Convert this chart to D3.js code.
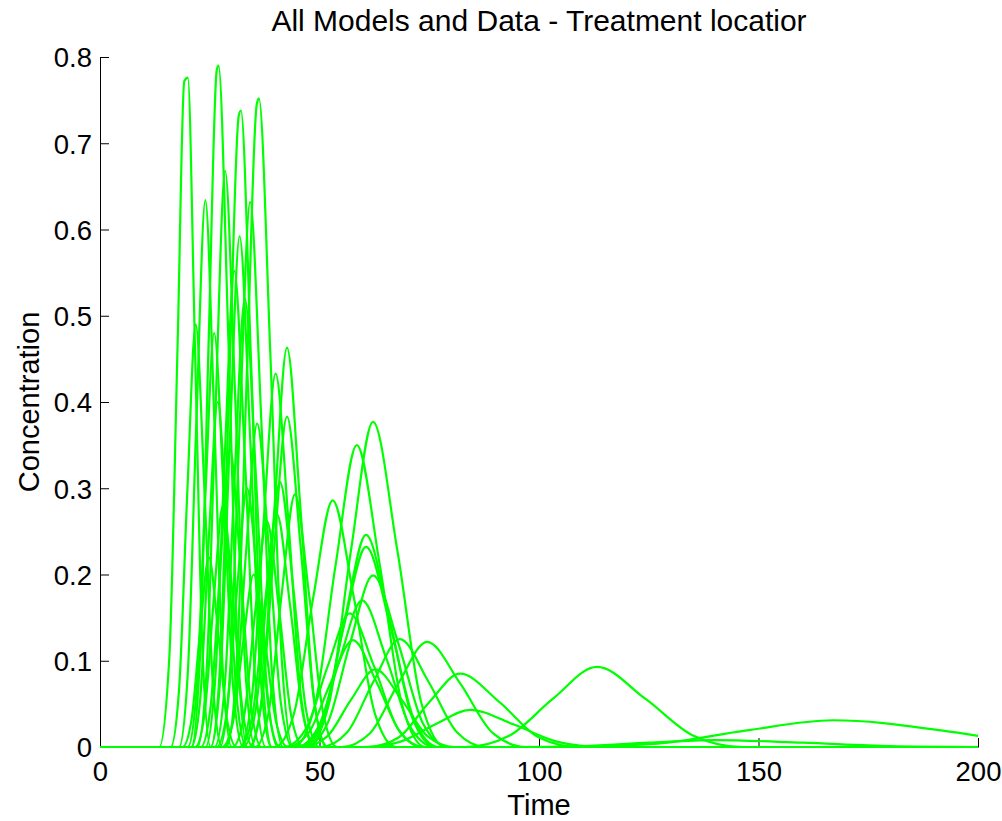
<!DOCTYPE html>
<html>
<head>
<meta charset="utf-8">
<script src="https://cdn.jsdelivr.net/npm/d3@7"></script>
<style>
  html, body { margin: 0; padding: 0; background: #fff; }
  svg { display: block; }
  text { font-family: "Liberation Sans", Arial, Helvetica, sans-serif; fill: #000; }
</style>
</head>
<body>
<svg id="chart" width="1002" height="821"></svg>
<script>
// ---- Data ----
const titleText = "All Models and Data - Treatment locatior";
const xLabel = "Time";
const yLabel = "Concentration";
const xTicks = [0, 50, 100, 150, 200];
const yTicks = [0, 0.1, 0.2, 0.3, 0.4, 0.5, 0.6, 0.7, 0.8];
const xDomain = [0, 200];
const yDomain = [0, 0.8];

// Each model curve: [time, concentration] samples
const curveEarly = [
  [[13.5,0],[15.8,.105],[17.7,.471],[19.2,.772],[20.0,.776],[21.6,.471],[23.4,.105],[25.2,0]],
  [[20.8,0],[22.8,.107],[24.8,.480],[26.6,.785],[27.0,.790],[29.2,.480],[31.4,.107],[33.6,0]],
  [[25.2,0],[27.4,.100],[29.6,.448],[31.6,.732],[32.1,.738],[34.4,.448],[36.8,.100],[39.2,0]],
  [[28.8,0],[31.2,.102],[33.6,.456],[35.7,.745],[36.2,.752],[38.8,.456],[41.4,.102],[44.0,0]],
  [[18.0,0],[20.0,.086],[22.0,.385],[24.0,.634],[26.0,.385],[28.0,.086],[30.0,0]],
  [[22.2,0],[24.3,.090],[26.4,.405],[28.5,.668],[30.8,.405],[33.1,.090],[35.4,0]],
  [[27.3,0],[29.6,.085],[31.9,.384],[34.2,.632],[36.7,.384],[39.2,.085],[41.7,0]],
  [[25.2,0],[27.4,.080],[29.6,.359],[31.8,.592],[34.2,.359],[36.6,.080],[39.0,0]],
  [[24.0,0],[26.2,.075],[28.4,.335],[30.6,.552],[33.0,.335],[35.4,.075],[37.8,0]],
  [[26.1,0],[28.4,.070],[30.7,.316],[33.0,.520],[35.5,.316],[38.0,.070],[40.5,0]],
  [[16.1,0],[18.0,.066],[19.9,.297],[21.8,.490],[23.8,.297],[25.8,.066],[27.8,0]],
  [[20.0,0],[22.0,.065],[24.0,.291],[26.0,.480],[28.2,.291],[30.4,.065],[32.6,0]],
  [[34.2,0],[37.0,.063],[39.8,.281],[42.6,.463],[45.6,.281],[48.6,.063],[51.6,0]],
  [[31.9,0],[34.6,.058],[37.3,.263],[40.0,.433],[42.9,.263],[45.8,.058],[48.7,0]],
  [[20.8,0],[22.8,.054],[24.8,.243],[26.8,.400],[29.0,.243],[31.2,.054],[33.4,0]],
  [[33.9,0],[36.8,.052],[39.7,.232],[42.6,.383],[45.7,.232],[48.8,.052],[51.9,0]],
  [[28.3,0],[30.8,.051],[33.3,.228],[35.8,.375],[38.5,.228],[41.2,.051],[43.9,0]],
  [[32.6,0],[35.4,.041],[38.2,.186],[41.0,.307],[44.0,.186],[47.0,.041],[50.0,0]],
  [[35.4,0],[38.4,.040],[41.4,.178],[44.4,.293],[47.6,.178],[50.8,.040],[54.0,0]],
  [[23.0,0],[25.2,.047],[27.4,.209],[29.6,.345],[32.0,.209],[34.4,.047],[36.8,0]],
  [[26.6,0],[28.9,.041],[31.2,.182],[33.5,.300],[36.0,.182],[38.5,.041],[41.0,0]],
  [[21.7,0],[23.8,.038],[25.9,.170],[28.0,.280],[30.3,.170],[32.6,.038],[34.9,0]],
  [[30.2,0],[32.8,.035],[35.4,.159],[38.0,.262],[40.8,.159],[43.6,.035],[46.4,0]],
  [[18.8,0],[20.8,.030],[22.8,.134],[24.8,.220],[26.9,.134],[29.0,.030],[31.1,0]],
  [[27.8,0],[30.2,.027],[32.6,.121],[35.0,.200],[37.6,.121],[40.2,.027],[42.8,0]],
  [[31.9,0],[34.7,.036],[37.5,.164],[40.3,.270],[43.3,.164],[46.3,.036],[49.3,0]]
];
const curveLate = [
  [[39.8,0],[44.2,.039],[48.6,.174],[53.0,.286],[57.8,.174],[62.6,.039],[67.4,0]],
  [[44.1,0],[48.9,.047],[53.7,.212],[58.5,.350],[63.7,.212],[68.9,.047],[74.1,0]],
  [[47.2,0],[52.2,.051],[57.2,.229],[62.2,.377],[67.7,.229],[73.2,.051],[78.7,0]],
  [[46.2,0],[51.0,.033],[55.8,.149],[60.6,.246],[65.9,.149],[71.2,.033],[76.5,0]],
  [[45.6,0],[50.6,.031],[55.6,.141],[60.6,.232],[66.1,.141],[71.6,.031],[77.1,0]],
  [[46.6,0],[51.8,.027],[57.0,.121],[62.2,.199],[67.9,.121],[73.6,.027],[79.3,0]],
  [[44.7,0],[49.7,.023],[54.7,.103],[59.7,.170],[65.2,.103],[70.7,.023],[76.2,0]],
  [[41.9,0],[46.9,.021],[51.9,.094],[56.9,.155],[62.4,.094],[67.9,.021],[73.4,0]],
  [[42.6,0],[47.6,.017],[52.6,.075],[57.6,.124],[63.0,.075],[68.4,.017],[73.8,0]],
  [[46.2,0],[51.7,.012],[57.2,.055],[62.7,.090],[68.7,.055],[74.7,.012],[80.7,0]],
  [[50.3,0],[56.3,.017],[62.3,.076],[68.3,.125],[74.8,.076],[81.3,.017],[87.8,0]],
  [[55.0,0],[61.5,.016],[68.0,.074],[74.5,.122],[82.0,.074],[89.5,.016],[97.0,0]],
  [[61.0,0],[68.0,.011],[75.0,.052],[82.0,.085],[91.0,.052],[100.0,.011],[109.0,0]],
  [[60.3,0],[68.3,.006],[76.3,.026],[84.3,.043],[94.3,.026],[104.3,.006],[114.3,0]],
  [[83.2,0],[93.2,.013],[103.2,.056],[113.2,.093],[124.2,.056],[135.2,.013],[146.2,0]],
  [[107.0,0],[127.0,.004],[147.0,.019],[167.0,.031],[192.0,.019],[200,.013]],
  [[95.0,0],[110.0,.001],[125.0,.005],[140.0,.008],[160.0,.005],[180.0,.001],[200,0]]
];

// ---- Layout ----
const svg = d3.select("#chart");
const margin = { left: 100, right: 24, top: 57, bottom: 74 };
const W = 1002, H = 821;
const x = d3.scaleLinear().domain(xDomain).range([margin.left, W - margin.right]);
const y = d3.scaleLinear().domain(yDomain).range([H - margin.bottom, margin.top]);

// Axes (MATLAB style: ticks inside, left & bottom only)
const fontTick = 27.5;
const gx = svg.append("g").attr("transform", `translate(0,${y(0)})`)
  .call(d3.axisBottom(x).tickValues(xTicks).tickSizeInner(-9).tickSizeOuter(0).tickPadding(14)
        .tickFormat(d3.format("d")));
const gy = svg.append("g").attr("transform", `translate(${x(0)},0)`)
  .call(d3.axisLeft(y).tickValues(yTicks).tickSizeInner(-9).tickSizeOuter(0).tickPadding(8)
        .tickFormat(d => d === 0 ? "0" : d3.format(".1f")(d)));
[gx, gy].forEach(g => {
  g.select(".domain").attr("stroke", "#000").attr("stroke-width", 1);
  g.selectAll(".tick line").attr("stroke", "#000").attr("stroke-width", 1);
  g.selectAll(".tick text").style("font-size", fontTick + "px").attr("fill", "#000");
});
gy.selectAll(".tick text").attr("dy", "0.36em");
gx.selectAll(".tick text").attr("dy", "0.71em");

// Curves
const line = d3.line()
  .x(d => x(d[0]))
  .y(d => y(d[1]))
  .curve(d3.curveMonotoneX);

const allCurves = curveEarly.concat(curveLate).map(pts => {
  const p = pts.slice();
  if (p[0][0] > 0) p.unshift([0, 0]);
  if (p[p.length - 1][0] < 200) p.push([200, 0]);
  return p;
});

svg.append("g").selectAll("path")
  .data(allCurves)
  .join("path")
  .attr("d", line)
  .attr("fill", "none")
  .attr("stroke", "#00ff00")
  .attr("stroke-width", 2.2)
  .attr("stroke-linejoin", "round");

// Titles
svg.append("text").attr("x", (x(0) + x(200)) / 2).attr("y", 31)
  .attr("text-anchor", "middle").style("font-size", "30px").text(titleText);
svg.append("text").attr("x", (x(0) + x(200)) / 2).attr("y", 815)
  .attr("text-anchor", "middle").style("font-size", "29px").text(xLabel);
svg.append("text")
  .attr("transform", `translate(39,${(y(0) + y(0.8)) / 2}) rotate(-90)`)
  .attr("text-anchor", "middle").style("font-size", "29px").text(yLabel);
</script>
</body>
</html>
